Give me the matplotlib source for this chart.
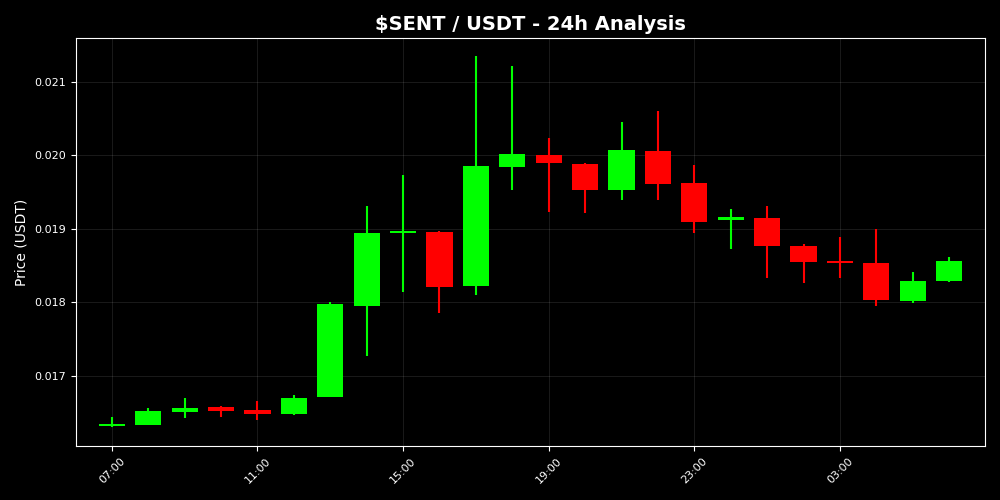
import pandas as pd
import matplotlib
matplotlib.use("Agg")
import matplotlib.pyplot as plt
import matplotlib.dates as mdates

# hourly candles, 07:00 -> 06:00
times = pd.date_range("2024-01-01 07:00", periods=24, freq="h")
opens = [0.016307, 0.016331, 0.016504, 0.016576, 0.016531, 0.016481, 0.016708, 0.017952,
         0.018936, 0.018956, 0.018225, 0.019842, 0.020005, 0.019883, 0.019533, 0.020060,
         0.019628, 0.019120, 0.019147, 0.018766, 0.018565, 0.018538, 0.018020, 0.018293]
closes = [0.016334, 0.016518, 0.016559, 0.016522, 0.016481, 0.016695, 0.017975, 0.018947,
          0.018956, 0.018211, 0.019856, 0.020019, 0.019896, 0.019533, 0.020074, 0.019614,
          0.019097, 0.019161, 0.018770, 0.018552, 0.018530, 0.018034, 0.018293, 0.018561]
highs = [0.016440, 0.016554, 0.016691, 0.016586, 0.016654, 0.016736, 0.018003, 0.019311,
         0.019733, 0.018966, 0.021354, 0.021218, 0.020237, 0.019900, 0.020455, 0.020605,
         0.019869, 0.019270, 0.019311, 0.018793, 0.018888, 0.018997, 0.018411, 0.018616]
lows = [0.016300, 0.016331, 0.016426, 0.016440, 0.016399, 0.016467, 0.016708, 0.017267,
        0.018143, 0.017849, 0.018098, 0.019529, 0.019229, 0.019219, 0.019396, 0.019396,
        0.018947, 0.018729, 0.018334, 0.018266, 0.018334, 0.017952, 0.017993, 0.018275]

plt.style.use("dark_background")
fig, ax = plt.subplots(figsize=(10, 5), dpi=100)
fig.patch.set_facecolor("black")
ax.set_facecolor("black")
fig.subplots_adjust(left=0.076, right=0.985, bottom=0.108, top=0.924)

x = mdates.date2num(times)
for xi, o, c, h, l in zip(x, opens, closes, highs, lows):
    col = "#00ff00" if c >= o else "#ff0000"
    ax.vlines(xi, l, h, color=col, linewidth=1.5, zorder=2)
    body = max(abs(c - o), 0.00003)
    ax.bar(xi, body, bottom=min(o, c), width=0.03, color=col, zorder=3)

ax.set_xlim(x[0] - 0.986 / 24, x[-1] + 0.986 / 24)
ax.set_ylim(0.01604, 0.0216)
ax.xaxis.set_major_locator(mdates.HourLocator(byhour=[3, 7, 11, 15, 19, 23]))
ax.xaxis.set_major_formatter(mdates.DateFormatter("%H:%M"))
plt.setp(ax.get_xticklabels(), rotation=45, fontsize=8)
ax.tick_params(axis="y", labelsize=8)
ax.grid(True, color="white", linestyle="-", linewidth=0.6, alpha=0.12)
ax.set_axisbelow(True)
for s in ax.spines.values():
    s.set_color("white")

ax.set_title(r"\$SENT / USDT - 24h Analysis", fontsize=14, fontweight="bold", color="white")
ax.set_ylabel("Price (USDT)", fontsize=10, color="white")

fig.savefig("out.png", dpi=100, facecolor="black")
